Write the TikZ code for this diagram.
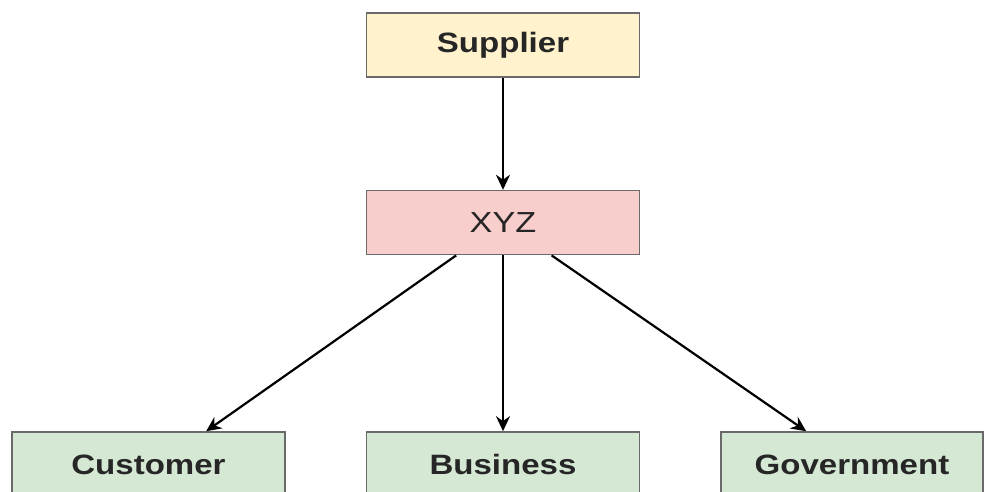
\documentclass[tikz,border=0pt]{standalone}
\usepackage{fontspec}
\setmainfont{Liberation Sans}[FakeStretch=1.18]
\usepackage{tikz}
\usetikzlibrary{arrows.meta, positioning}
\definecolor{supfill}{HTML}{FFF2CC}
\definecolor{xyzfill}{HTML}{F8CECC}
\definecolor{endfill}{HTML}{D5E8D4}
\definecolor{boxline}{HTML}{6A6A6A}
\definecolor{labeltext}{HTML}{262626}
\tikzstyle{supply} = [rectangle, minimum width=273pt, minimum height=64pt, text centered, draw=boxline, line width=1.6pt, fill=supfill, text=labeltext, font=\fontsize{28}{30}\selectfont\bfseries]
\tikzstyle{firm} = [supply, fill=xyzfill, font=\fontsize{29}{30}\selectfont]
\tikzstyle{outlet} = [supply, minimum height=65pt, fill=endfill]
\tikzstyle{link} = [line width=2.2pt, -{Stealth[length=15pt, width=14pt]}]

\begin{document}
\begin{tikzpicture}[x=1pt, y=-1pt]
\clip (0,0) rectangle (988,492);
\useasboundingbox (0,0) rectangle (988,492);
\node (sup) [supply] at (503,45) {Supplier};
\node (xyz) [firm, below=112pt of sup] {XYZ};
\node (cust) [outlet, minimum width=273pt] at (148.5,464.5) {Customer};
\node (bus) [outlet, minimum width=273pt] at (503,464.5) {Business};
\node (gov) [outlet, minimum width=262pt] at (852,464.5) {Government};
\draw [link] (sup) -- (xyz);
\draw [link] (xyz.215) -- (cust.30);
\draw [link] (xyz) -- (bus);
\draw [link] (xyz.326) -- (gov.144);
\end{tikzpicture}
\end{document}
